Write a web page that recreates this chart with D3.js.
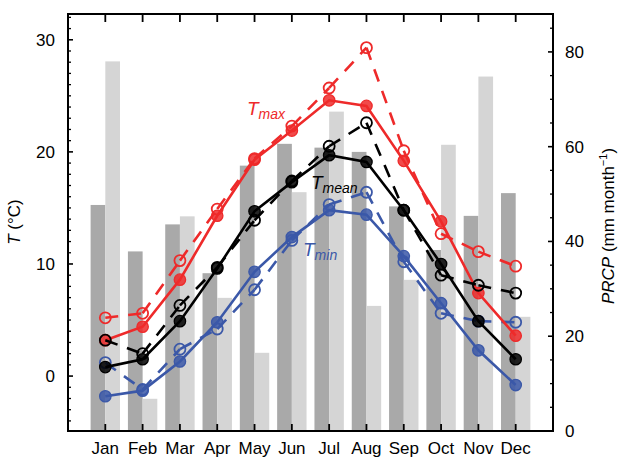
<!DOCTYPE html>
<html>
<head>
<meta charset="utf-8">
<script src="https://cdn.jsdelivr.net/npm/d3@7"></script>
<style>
  body { margin: 0; background: #fff; }
  svg { display: block; font-family: "Liberation Sans", Arial, sans-serif; }
</style>
</head>
<body>
<svg id="chart" width="619" height="459"></svg>
<script>
// dados
var months = ["Jan", "Feb", "Mar", "Apr", "May", "Jun", "Jul", "Aug", "Sep", "Oct", "Nov", "Dec"];
var prcpDark = [47.7, 37.9, 43.6, 33.3, 56.0, 60.6, 59.8, 58.9, 47.4, 38.2, 45.4, 50.2];
var prcpLight = [78.0, 6.8, 45.3, 28.1, 16.5, 50.4, 67.4, 26.4, 31.9, 60.4, 74.8, 24.1];
var tmaxSolid = [3.2, 4.4, 8.6, 14.3, 19.3, 21.9, 24.6, 24.1, 19.2, 13.8, 7.4, 3.6];
var tmaxDash = [5.2, 5.6, 10.3, 14.9, 19.4, 22.3, 25.7, 29.3, 20.1, 12.7, 11.1, 9.8];
var tmeanSolid = [0.8, 1.5, 4.9, 9.6, 14.7, 17.3, 19.7, 19.1, 14.8, 10.0, 4.9, 1.5];
var tmeanDash = [3.2, 2.0, 6.3, 9.7, 13.9, 17.4, 20.5, 22.6, 14.8, 9.0, 8.1, 7.4];
var tminSolid = [-1.8, -1.3, 1.3, 4.8, 9.3, 12.4, 14.8, 14.4, 10.7, 6.5, 2.3, -0.8];
var tminDash = [1.2, -1.2, 2.4, 4.2, 7.7, 12.1, 15.3, 16.4, 10.2, 5.6, 4.9, 4.8];
var tTicks = [0, 10, 20, 30];
var pTicks = [0, 20, 40, 60, 80];

var red = "#ee2a2a", blue = "#3b58a8", black = "#000000";

var svg = d3.select("#chart");
var mLeft = 68, mRight = 553, mTop = 14, mBottom = 431;

var x = d3.scaleLinear().domain([0, 13]).range([mLeft, mRight]);
var yT = d3.scaleLinear().domain([-4.9, 32.3]).range([mBottom, mTop]);
var yP = d3.scaleLinear().domain([0, 88]).range([mBottom, mTop]);
var barW = 14.7;

//BARRAS PRCP
var bars = svg.append("g");
bars.selectAll(".bd").data(prcpDark).enter().append("rect")
    .attr("x", (d, i) => x(i + 1) - barW)
    .attr("y", d => yP(d))
    .attr("width", barW)
    .attr("height", d => yP(0) - yP(d))
    .attr("fill", "#a9a9a9");
bars.selectAll(".bl").data(prcpLight).enter().append("rect")
    .attr("x", (d, i) => x(i + 1))
    .attr("y", d => yP(d))
    .attr("width", barW)
    .attr("height", d => yP(0) - yP(d))
    .attr("fill", "#d5d5d5");

//LINHAS
var line = d3.line().x(d => x(d[0])).y(d => yT(d[1]));

function drawSeries(vals, color, dashed) {
    var pts = vals.map((v, i) => [i + 1, v]);
    var g = svg.append("g");
    if (dashed) {
        // cada segmento com o seu tracejado, como no original
        d3.pairs(pts).forEach(function (p) {
            g.append("path").attr("d", line(p))
                .attr("fill", "none").attr("stroke", color)
                .attr("stroke-width", 2.6).attr("stroke-dasharray", "13,10");
        });
        g.selectAll("circle").data(pts).enter().append("circle")
            .attr("cx", d => x(d[0])).attr("cy", d => yT(d[1])).attr("r", 5.5)
            .attr("fill", "none").attr("stroke", color).attr("stroke-width", 1.8);
    } else {
        g.append("path").attr("d", line(pts))
            .attr("fill", "none").attr("stroke", color).attr("stroke-width", 2.6);
        g.selectAll("circle").data(pts).enter().append("circle")
            .attr("cx", d => x(d[0])).attr("cy", d => yT(d[1])).attr("r", 5.7)
            .attr("fill", color).attr("fill-opacity", 0.85)
            .attr("stroke", color).attr("stroke-width", 1.3);
    }
}

drawSeries(tminSolid, blue, false);
drawSeries(tminDash, blue, true);
drawSeries(tmaxSolid, red, false);
drawSeries(tmaxDash, red, true);
drawSeries(tmeanSolid, black, false);
drawSeries(tmeanDash, black, true);

//RÓTULOS DAS SÉRIES
function seriesLabel(px, py, sub, color) {
    var t = svg.append("text").attr("x", px).attr("y", py)
        .attr("fill", color).style("font-style", "italic");
    t.append("tspan").attr("font-size", "19px").text("T");
    t.append("tspan").attr("font-size", "14px").attr("dy", 4).text(sub);
}
seriesLabel(247, 115, "max", red);
seriesLabel(311, 189, "mean", black);
seriesLabel(303, 256, "min", blue);

//MOLDURA E TICKS
var axes = svg.append("g").attr("stroke", "#000");
axes.append("rect").attr("x", mLeft).attr("y", mTop)
    .attr("width", mRight - mLeft).attr("height", mBottom - mTop)
    .attr("fill", "none").attr("stroke-width", 2);

d3.range(-4, 33).forEach(function (v) {
    var major = v % 10 == 0;
    axes.append("line").attr("x1", mLeft).attr("x2", mLeft + (major ? 5 : 3))
        .attr("y1", yT(v)).attr("y2", yT(v)).attr("stroke-width", major ? 1.6 : 1.3);
});
d3.range(5, 89, 5).forEach(function (v) {
    var major = v % 20 == 0;
    axes.append("line").attr("x1", mRight).attr("x2", mRight - (major ? 5 : 3))
        .attr("y1", yP(v)).attr("y2", yP(v)).attr("stroke-width", major ? 1.6 : 1.3);
});
months.forEach(function (m, i) {
    axes.append("line").attr("x1", x(i + 1)).attr("x2", x(i + 1))
        .attr("y1", mTop).attr("y2", mTop + 8).attr("stroke-width", 1.8);
    axes.append("line").attr("x1", x(i + 1)).attr("x2", x(i + 1))
        .attr("y1", mBottom).attr("y2", mBottom - 7).attr("stroke-width", 1.8);
});

//TEXTO DOS EIXOS
var labels = svg.append("g").attr("font-size", "17px").attr("fill", "#000");
labels.selectAll(".tl").data(tTicks).enter().append("text")
    .attr("x", 55).attr("y", d => yT(d)).attr("dy", "0.35em")
    .attr("text-anchor", "end").text(d => d);
labels.selectAll(".pl").data(pTicks).enter().append("text")
    .attr("x", 565).attr("y", d => yP(d)).attr("dy", "0.35em")
    .text(d => d);
labels.selectAll(".ml").data(months).enter().append("text")
    .attr("x", (d, i) => x(i + 1)).attr("y", 454)
    .attr("text-anchor", "middle").text(d => d);

var tTitle = labels.append("text").attr("transform", "translate(20,222) rotate(-90)")
    .attr("text-anchor", "middle");
tTitle.append("tspan").style("font-style", "italic").text("T");
tTitle.append("tspan").text(" (°C)");

var pTitle = labels.append("text").attr("transform", "translate(614,226) rotate(-90)")
    .attr("text-anchor", "middle");
pTitle.append("tspan").style("font-style", "italic").text("PRCP");
pTitle.append("tspan").text(" (mm month");
pTitle.append("tspan").attr("font-size", "11px").attr("dy", -7).text("−1");
pTitle.append("tspan").attr("dy", 7).text(")");
</script>
</body>
</html>
